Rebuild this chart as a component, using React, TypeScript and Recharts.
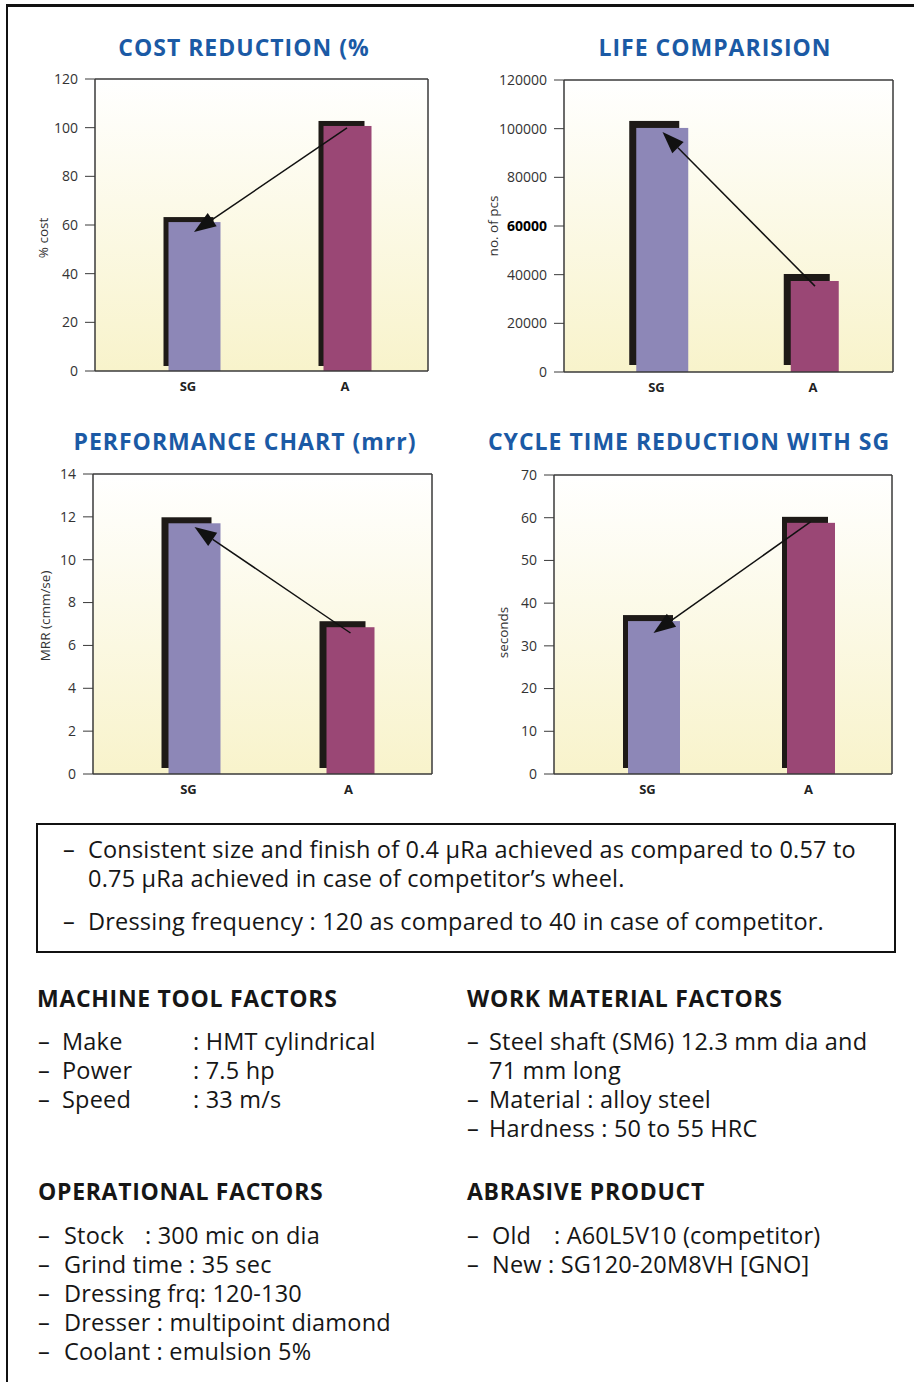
import React from 'react';
import { BarChart, Bar, XAxis, YAxis, CartesianGrid, ReferenceLine } from 'recharts';

const categories = ['SG', 'A'];
const barColors = ['#8d87b7', '#9a4775'];

const costValues = [61.2, 100.7];
const lifeValues = [100300, 37400];
const mrrValues = [11.7, 6.85];
const cycleValues = [35.8, 58.8];

const costTicks = [0, 20, 40, 60, 80, 100, 120];
const lifeTicks = [0, 20000, 40000, 60000, 80000, 100000, 120000];
const mrrTicks = [0, 2, 4, 6, 8, 10, 12, 14];
const cycleTicks = [0, 10, 20, 30, 40, 50, 60, 70];

// arrow: from [category, value] to [category, value]
const costArrow = ['A', 99.9, 'SG', 57.1];
const lifeArrow = ['A', 35300, 'SG', 98600];
const mrrArrow = ['A', 6.58, 'SG', 11.53];
const cycleArrow = ['A', 59, 'SG', 33];

const AXIS = '#3a3a3a';
const SHADOW = '#1e1a17';
const TITLE_BLUE = '#1b5aa5';
const FONT = '"Open Sans", "Noto Sans", sans-serif';

const charts = [
  {
    id: 'cost', yLabel: '% cost', values: costValues, ticks: costTicks, arrow: costArrow,
    left: 20, top: 60, width: 420, height: 340,
    margin: { top: 19, right: 12, bottom: 4, left: 0 }, yWidth: 75, xHeight: 25,
    padL: 22.5, padR: 4.5, shX: 5, shY: 5, labelX: 23, labelDy: 13,
  },
  {
    id: 'life', yLabel: 'no. of pcs', values: lifeValues, ticks: lifeTicks, arrow: lifeArrow,
    left: 480, top: 60, width: 425, height: 340,
    margin: { top: 20, right: 12, bottom: 4, left: 0 }, yWidth: 84, xHeight: 24,
    padL: 22.25, padR: 1.75, shX: 7, shY: 7, labelX: 13, labelDy: 0, boldTick: 60000,
  },
  {
    id: 'mrr', yLabel: 'MRR (cmm/se)', values: mrrValues, ticks: mrrTicks, arrow: mrrArrow,
    left: 20, top: 455, width: 425, height: 345,
    margin: { top: 19, right: 13, bottom: 4, left: 0 }, yWidth: 73, xHeight: 22,
    padL: 23.5, padR: 3.5, shX: 7, shY: 6, labelX: 25, labelDy: -8,
  },
  {
    id: 'cycle', yLabel: 'seconds', values: cycleValues, ticks: cycleTicks, arrow: cycleArrow,
    left: 480, top: 455, width: 425, height: 345,
    margin: { top: 20, right: 13, bottom: 4, left: 0 }, yWidth: 74, xHeight: 22,
    padL: 21, padR: 3, shX: 5, shY: 6, labelX: 23, labelDy: 8,
  },
];

const titles = [
  { text: 'COST REDUCTION (%', cx: 244, cy: 47 },
  { text: 'LIFE COMPARISION', cx: 715, cy: 47 },
  { text: 'PERFORMANCE CHART (mrr)', cx: 245, cy: 441 },
  { text: 'CYCLE TIME REDUCTION WITH SG', cx: 689, cy: 441 },
];

function ArrowShape(props: any) {
  const { x1, y1, x2, y2 } = props;
  const ang = Math.atan2(y2 - y1, x2 - x1);
  const len = 22;
  const half = 8;
  const bx = x2 - len * Math.cos(ang);
  const by = y2 - len * Math.sin(ang);
  const px = -Math.sin(ang) * half;
  const py = Math.cos(ang) * half;
  return (
    <g>
      <line x1={x1} y1={y1} x2={bx} y2={by} stroke="#111" strokeWidth={1.5} />
      <polygon points={`${x2},${y2} ${bx + px},${by + py} ${bx - px},${by - py}`} fill="#111" />
    </g>
  );
}

function MiniChart({ cfg }: { cfg: any }) {
  const data = categories.map((name, i) => ({ name, value: cfg.values[i], color: barColors[i] }));
  const plotH = cfg.height - cfg.margin.top - cfg.margin.bottom - cfg.xHeight;
  const labelY = cfg.margin.top + plotH / 2 + cfg.labelDy;
  const max = cfg.ticks[cfg.ticks.length - 1];

  const barShape = (p: any) => {
    const w = p.index === 0 ? 52 : 48;
    const bx = p.x + p.width / 2 - w / 2;
    return (
      <g>
        <rect x={bx - cfg.shX} y={p.y - cfg.shY} width={w - 2} height={p.height} fill={SHADOW} />
        <rect x={bx} y={p.y} width={w} height={p.height} fill={p.payload.color} />
      </g>
    );
  };

  return (
    <div style={{ position: 'absolute', left: cfg.left, top: cfg.top }}>
      <BarChart width={cfg.width} height={cfg.height} data={data} margin={cfg.margin}>
        <defs>
          <linearGradient id={`bg-${cfg.id}`} x1="0" y1="0" x2="0" y2="1">
            <stop offset="0%" stopColor="#ffffff" />
            <stop offset="100%" stopColor="#f8f3cb" />
          </linearGradient>
        </defs>
        {/* gradient plot background plus the top and right frame lines */}
        <CartesianGrid
          fill={`url(#bg-${cfg.id})`}
          stroke={AXIS}
          strokeWidth={1.5}
          horizontalCoordinatesGenerator={({ offset }: any) => [offset.top]}
          verticalCoordinatesGenerator={({ offset }: any) => [offset.left + offset.width]}
        />
        <XAxis
          dataKey="name"
          height={cfg.xHeight}
          padding={{ left: cfg.padL, right: cfg.padR }}
          tickLine={false}
          tickSize={0}
          tickMargin={11}
          axisLine={{ stroke: AXIS, strokeWidth: 1.5 }}
          tick={(p: any) => (
            <text x={p.x + (p.index === 0 ? -6 : -2)} y={p.y} dy="0.71em" textAnchor="middle"
              fontSize={13} fontWeight={700} fill="#222" fontFamily={FONT}>
              {p.payload.value}
            </text>
          )}
        />
        <YAxis
          type="number"
          domain={[0, max]}
          ticks={cfg.ticks}
          interval={0}
          width={cfg.yWidth}
          tickSize={10}
          tickMargin={7}
          axisLine={{ stroke: AXIS, strokeWidth: 1.5 }}
          tickLine={{ stroke: AXIS, strokeWidth: 1 }}
          tick={(p: any) => {
            const bold = cfg.boldTick === p.payload.value;
            return (
              <text x={p.x} y={p.y} dy="0.35em" textAnchor="end" fontSize={14} fontFamily={FONT}
                fill={bold ? '#000' : '#333'} fontWeight={bold ? 700 : 400}>
                {p.payload.value}
              </text>
            );
          }}
          label={{
            content: () => (
              <text x={cfg.labelX} y={labelY} transform={`rotate(-90 ${cfg.labelX} ${labelY})`}
                textAnchor="middle" dominantBaseline="central" fontSize={13.5} fill="#333" fontFamily={FONT}>
                {cfg.yLabel}
              </text>
            ),
          }}
        />
        <Bar dataKey="value" barSize={50} isAnimationActive={false} shape={barShape} />
        <ReferenceLine
          segment={[{ x: cfg.arrow[0], y: cfg.arrow[1] }, { x: cfg.arrow[2], y: cfg.arrow[3] }]}
          shape={ArrowShape}
          ifOverflow="visible"
        />
      </BarChart>
    </div>
  );
}

function Txt({ x, cy, size = 23.5, weight = 400, spacing = 0.2, children }: any) {
  return (
    <div style={{
      position: 'absolute', left: x, top: cy - 15 - 0.03 * size, height: 30, lineHeight: '30px',
      fontSize: size, fontWeight: weight, letterSpacing: spacing, whiteSpace: 'nowrap', color: '#161616',
    }}>
      {children}
    </div>
  );
}

function Heading({ x, cy, children }: any) {
  return <Txt x={x} cy={cy} size={23} weight={700} spacing={0.7}>{children}</Txt>;
}

const machineItems = [['Make', ': HMT cylindrical'], ['Power', ': 7.5 hp'], ['Speed', ': 33 m/s']];
const workItems = [['–', 'Steel shaft (SM6) 12.3 mm dia and'], ['', '71 mm long'], ['–', 'Material : alloy steel'], ['–', 'Hardness : 50 to 55 HRC']];
const operationalItems = ['Grind time : 35 sec', 'Dressing frq: 120-130', 'Dresser : multipoint diamond', 'Coolant : emulsion 5%'];

export default function App() {
  return (
    <div style={{
      position: 'absolute', left: 0, top: 0, width: 914, height: 1382, overflow: 'hidden',
      background: '#fff', fontFamily: FONT,
    }}>
      <div style={{
        position: 'absolute', left: 6, top: 4, width: 960, height: 1450,
        borderLeft: '2px solid #111', borderTop: '3px solid #111',
      }} />

      {titles.map((t) => (
        <div key={t.text} style={{
          position: 'absolute', left: t.cx - 250, width: 500, top: t.cy - 15, height: 30, lineHeight: '30px',
          textAlign: 'center', color: TITLE_BLUE, fontWeight: 700, fontSize: 23, letterSpacing: 1,
          whiteSpace: 'nowrap',
        }}>
          {t.text}
        </div>
      ))}

      {charts.map((c) => <MiniChart key={c.id} cfg={c} />)}

      <div style={{
        position: 'absolute', left: 36, top: 823, width: 860, height: 130,
        border: '2px solid #111', boxSizing: 'border-box',
      }} />
      <Txt x={63} cy={850}>–</Txt>
      <Txt x={88} cy={850}>Consistent size and finish of 0.4 µRa achieved as compared to 0.57 to</Txt>
      <Txt x={88} cy={879}>0.75 µRa achieved in case of competitor’s wheel.</Txt>
      <Txt x={63} cy={922}>–</Txt>
      <Txt x={88} cy={922}>Dressing frequency : 120 as compared to 40 in case of competitor.</Txt>

      <Heading x={37} cy={999}>MACHINE TOOL FACTORS</Heading>
      {machineItems.map((m, i) => (
        <React.Fragment key={m[0]}>
          <Txt x={38} cy={1042 + i * 29}>–</Txt>
          <Txt x={62} cy={1042 + i * 29}>{m[0]}</Txt>
          <Txt x={193} cy={1042 + i * 29}>{m[1]}</Txt>
        </React.Fragment>
      ))}

      <Heading x={467} cy={999}>WORK MATERIAL FACTORS</Heading>
      {workItems.map((m, i) => (
        <React.Fragment key={m[1]}>
          {m[0] && <Txt x={467} cy={1042 + i * 29}>{m[0]}</Txt>}
          <Txt x={489} cy={1042 + i * 29}>{m[1]}</Txt>
        </React.Fragment>
      ))}

      <Heading x={38} cy={1192}>OPERATIONAL FACTORS</Heading>
      <Txt x={38} cy={1236}>–</Txt>
      <Txt x={64} cy={1236}>Stock</Txt>
      <Txt x={145} cy={1236}>: 300 mic on dia</Txt>
      {operationalItems.map((s, i) => (
        <React.Fragment key={s}>
          <Txt x={38} cy={1265 + i * 29}>–</Txt>
          <Txt x={64} cy={1265 + i * 29}>{s}</Txt>
        </React.Fragment>
      ))}

      <Heading x={467} cy={1192}>ABRASIVE PRODUCT</Heading>
      <Txt x={467} cy={1236}>–</Txt>
      <Txt x={492} cy={1236}>Old</Txt>
      <Txt x={554} cy={1236}>: A60L5V10 (competitor)</Txt>
      <Txt x={467} cy={1265}>–</Txt>
      <Txt x={492} cy={1265}>New : SG120-20M8VH [GNO]</Txt>
    </div>
  );
}
